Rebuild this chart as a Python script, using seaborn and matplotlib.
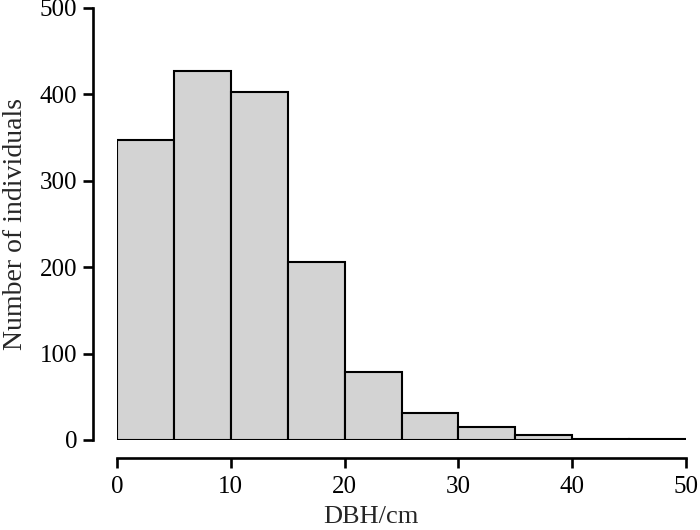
import matplotlib
matplotlib.use("Agg")
import matplotlib.pyplot as plt
import seaborn as sns
import pandas as pd
import numpy as np

bin_edges = [0, 5, 10, 15, 20, 25, 30, 35, 40, 45, 50]
bin_mids = [2.5, 7.5, 12.5, 17.5, 22.5, 27.5, 32.5, 37.5, 42.5, 47.5]
counts = [347, 427, 403, 206, 79, 31, 15, 6, 1, 1]
x_ticks = [0, 10, 20, 30, 40, 50]
y_ticks = [0, 100, 200, 300, 400, 500]

sns.set_theme(style="ticks")
plt.rcParams['font.family'] = ['Liberation Serif', 'DejaVu Serif']

df = pd.DataFrame({"dbh": bin_mids, "n": counts})

fig = plt.figure(figsize=(7, 5.3), dpi=100)
ax = fig.add_axes([117/700, 1-440/530, (686-117)/700, (440-8)/530])
sns.histplot(data=df, x="dbh", weights="n", bins=bin_edges, ax=ax,
             color="#d3d3d3", edgecolor="black", linewidth=1.5, alpha=1)

ax.set_xlim(0, 50)
ax.set_ylim(0, 500)
ax.set_xticks(x_ticks)
ax.set_yticks(y_ticks)
ax.spines['top'].set_visible(False)
ax.spines['right'].set_visible(False)
ax.spines['left'].set_position(('outward', 24*0.72))
ax.spines['bottom'].set_position(('outward', 18*0.72))
ax.spines['left'].set_bounds(0, 500)
ax.spines['bottom'].set_bounds(0, 50)
for s in ['left', 'bottom']:
    ax.spines[s].set_linewidth(1.9)
    ax.spines[s].set_color('black')
ax.tick_params(axis='both', length=7.5, width=1.9, colors='black', labelsize=18)
ax.tick_params(axis='x', pad=5.5)
ax.tick_params(axis='y', pad=4)
ax.set_xlabel("DBH/cm", fontsize=19, va='bottom')
ax.set_ylabel("Number of individuals", fontsize=20, labelpad=8)
ax.xaxis.set_label_coords(0.446, -0.203)
ax.grid(False)
fig.savefig("out.png", dpi=100)
